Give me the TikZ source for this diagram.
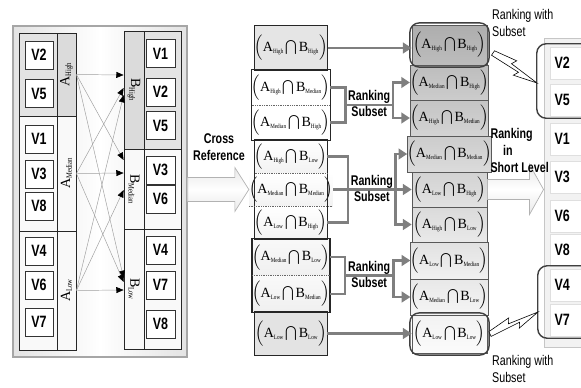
\documentclass[tikz,border=0pt]{standalone}
\usepackage{fontspec}
\usepackage{amsmath}
\usetikzlibrary{arrows.meta, positioning, fit, calc}
\newfontfamily\narrowsans[FakeStretch=0.76]{Liberation Sans}
\newfontfamily\serifrm{Liberation Serif}
\newfontfamily\subserif[FakeStretch=0.8]{Liberation Serif}
\definecolor{linkgray}{HTML}{7F7F7F}
\definecolor{framegray}{HTML}{A6A6A6}

% intersection term, e.g. (A_High \cap B_Low)
\newcommand{\capterm}[2]{$\Bigl(\hbox{\serifrm A}_{\hbox{\subserif\fontsize{5.5}{5.5}\selectfont #1}}\mkern2mu{\bigcap}\mkern2mu\hbox{\serifrm B}_{\hbox{\subserif\fontsize{5.5}{5.5}\selectfont #2}}\Bigr)$}
% set label of a column, e.g. A_High
\newcommand{\setlab}[2]{$\hbox{\serifrm\fontsize{12}{12}\selectfont #1}_{\hbox{\subserif\fontsize{7}{7}\selectfont #2}}$}

\begin{document}
\begin{tikzpicture}[x=0.03cm, y=-0.03cm,
    panel/.style={draw=framegray, line width=1.2pt, left color=gray!22, right color=gray!22, middle color=white},
    setcell/.style={draw=black!85, line width=0.7pt, inner sep=0pt},
    vbox/.style={draw=black!80, fill=white, minimum width=0.84cm, minimum height=0.84cm, inner sep=0pt,
                 font=\narrowsans\bfseries\fontsize{14}{14}\selectfont},
    rvbox/.style={draw=gray!25, fill=white, minimum width=1.08cm, minimum height=0.96cm, inner sep=0pt,
                  font=\narrowsans\bfseries\fontsize{14}{14}\selectfont, execute at end node={\hspace{0.35cm}}},
    crossarrow/.style={draw=gray!75, line width=0.4pt, -{Triangle[length=2.2mm, width=1.8mm, color=black]}},
    termcell/.style={minimum width=2.16cm, inner sep=0pt, font=\fontsize{12}{14}\selectfont},
    rankcell/.style={draw=black!65, line width=0.6pt, minimum width=2.25cm, inner sep=0pt, font=\fontsize{12}{14}\selectfont},
    grpbox/.style={draw=black!85, line width=1.2pt, inner sep=0pt},
    sepline/.style={densely dotted, black!60, line width=0.5pt},
    link/.style={draw=linkgray, line width=2pt},
    tiplink/.style={link, -{Triangle[length=2.6mm, width=3.2mm]}},
    ranktext/.style={font=\narrowsans\bfseries\fontsize{12}{14.5}\selectfont, inner sep=1pt},
    notetext/.style={font=\narrowsans\fontsize{12}{15}\selectfont, align=left, inner sep=0pt},
    hilite/.style={draw=gray!50!black, line width=1.2pt, rounded corners=8pt},
    bigarrow/.style={draw=gray!60, line width=0.6pt, top color=gray!18, bottom color=gray!18, middle color=white},
    bolt/.style={draw=black, line width=0.5pt, fill=white},
]
\useasboundingbox (0,0) rectangle (581,388);

% Left panel: the two sets A and B
\node[panel, minimum width=5.22cm, minimum height=9.93cm] (leftpanel) at (100,191.5) {};

% A column: value area + rotated label for each level
\node[setcell, fill=gray!22, minimum width=1.14cm, minimum height=2.49cm] (ahighv) at (38,74.5) {};
\node[setcell, fill=gray!28, minimum width=0.57cm, minimum height=2.49cm] (ahigh) at (66.5,74.5) {\rotatebox{90}{\setlab{A}{High}}};
\node[setcell, fill=gray!5, minimum width=1.14cm, minimum height=3.45cm] (amedv) at (38,173.5) {};
\node[setcell, fill=gray!5, minimum width=0.57cm, minimum height=3.45cm] (amed) at (66.5,173.5) {\rotatebox{90}{\setlab{A}{Median}}};
\node[setcell, fill=gray!5, minimum width=1.14cm, minimum height=3.57cm] (alowv) at (38,290.5) {};
\node[setcell, fill=gray!5, minimum width=0.57cm, minimum height=3.57cm] (alow) at (66.5,290.5) {\rotatebox{90}{\setlab{A}{Low}}};

% B column: rotated label + value area
\node[setcell, fill=gray!28, minimum width=0.6cm, minimum height=3.54cm] (bhigh) at (134,90) {\rotatebox{-90}{\setlab{B}{High}}};
\node[setcell, fill=gray!22, minimum width=1.11cm, minimum height=3.54cm] (bhighv) at (162.5,90) {};
\node[setcell, fill=gray!5, minimum width=0.6cm, minimum height=2.4cm] (bmed) at (134,189) {\rotatebox{-90}{\setlab{B}{Median}}};
\node[setcell, fill=gray!5, minimum width=1.11cm, minimum height=2.4cm] (bmedv) at (162.5,189) {};
\node[setcell, fill=gray!5, minimum width=0.6cm, minimum height=3.6cm] (blow) at (134,289) {\rotatebox{-90}{\setlab{B}{Low}}};
\node[setcell, fill=gray!5, minimum width=1.11cm, minimum height=3.6cm] (blowv) at (162.5,289) {};

% values in A
\node[vbox] (v2a) at (39,55) {V2};
\node[vbox] (v5a) at (39,93.5) {V5};
\node[vbox] (v1a) at (39,139) {V1};
\node[vbox] (v3a) at (39,174) {V3};
\node[vbox] (v8a) at (39,206) {V8};
\node[vbox] (v4a) at (39,251) {V4};
\node[vbox] (v6a) at (39,285) {V6};
\node[vbox] (v7a) at (39,322) {V7};

% values in B
\node[vbox, minimum width=0.87cm] (v1b) at (160.5,53.5) {V1};
\node[vbox, minimum width=0.87cm] (v2b) at (160.5,92) {V2};
\node[vbox, minimum width=0.87cm] (v5b) at (160.5,125.5) {V5};
\node[vbox, minimum width=0.87cm] (v3b) at (160.5,170) {V3};
\node[vbox, minimum width=0.87cm] (v6b) at (160.5,199) {V6};
\node[vbox, minimum width=0.87cm] (v4b) at (160.5,250) {V4};
\node[vbox, minimum width=0.87cm] (v7b) at (160.5,285) {V7};
\node[vbox, minimum width=0.87cm] (v8b) at (160.5,324) {V8};

% every A level against every B level
\draw[crossarrow] (ahigh.east) -- ($(bhigh.west)+(0,-15)$);
\draw[crossarrow] (ahigh.east) -- ($(bmed.west)+(0,-29)$);
\draw[crossarrow] (ahigh.east) -- ($(blow.west)+(0,-11)$);
\draw[crossarrow] (amed.east) -- ($(bhigh.west)+(0,-2)$);
\draw[crossarrow] (amed.east) -- ($(bmed.west)+(0,-16)$);
\draw[crossarrow] (amed.east) -- ($(blow.west)+(0,-7)$);
\draw[crossarrow] (alow.east) -- ($(bhigh.west)+(0,5)$);
\draw[crossarrow] (alow.east) -- ($(bmed.west)+(0,1)$);
\draw[crossarrow] (alow.east) -- ($(blow.west)+(0,1)$);

% Middle column: the nine intersections
\node[termcell, fill=gray!20, minimum height=1.32cm] (m1) at (291,48) {\capterm{High}{High}};
\node[termcell, fill=white, minimum height=1.05cm] (m2) at (291,87.5) {\capterm{High}{Median}};
\node[termcell, fill=white, minimum height=1.05cm] (m3) at (291,122.5) {\capterm{Median}{High}};
\node[termcell, top color=white, bottom color=gray!10, minimum height=0.99cm] (m4) at (291,156.5) {\capterm{High}{Low}};
\node[termcell, top color=white, bottom color=gray!10, minimum height=0.99cm] (m5) at (291,189.5) {\capterm{Median}{Median}};
\node[termcell, top color=white, bottom color=gray!10, minimum height=0.99cm] (m6) at (291,222.5) {\capterm{Low}{High}};
\node[termcell, top color=gray!5, bottom color=gray!12, minimum height=1.095cm] (m7) at (291,257.25) {\capterm{Median}{Low}};
\node[termcell, top color=gray!5, bottom color=gray!12, minimum height=1.095cm] (m8) at (291,293.75) {\capterm{Low}{Median}};
\node[termcell, fill=gray!22, minimum height=1.29cm] (m9) at (291,333.5) {\capterm{Low}{Low}};

\node[grpbox, fit=(m1)] (grp1) {};
\node[grpbox, fit=(m2)(m3)] (grp2) {};
\node[grpbox, fit=(m4)(m6)] (grp3) {};
\node[grpbox, fit=(m7)(m8)] (grp4) {};
\node[grpbox, fit=(m9)] (grp5) {};
\draw[sepline] (m2.south west) -- (m2.south east);
\draw[sepline] (m4.south west) -- (m4.south east);
\draw[sepline] (m5.south west) -- (m5.south east);
\draw[sepline] (m7.south west) -- (m7.south east);

% Cross reference arrow
\coordinate (crosstip) at (m5.west);
\coordinate (crossbase) at (leftpanel.east |- crosstip);
\path[bigarrow] ($(crossbase)+(0,-12)$) -- ($(crosstip)+(-14,-12)$) -- ($(crosstip)+(-14,-22)$) -- (crosstip)
    -- ($(crosstip)+(-14,22)$) -- ($(crosstip)+(-14,12)$) -- ($(crossbase)+(0,12)$) -- cycle;
\node[ranktext, align=center] (crossref) at (219,147) {Cross\\Reference};

% Right column: ranked intersections
\node[rankcell, top color=gray!64, bottom color=gray!52, minimum height=1.2cm] (r1) at (449.5,45) {\capterm{High}{High}};
\node[rankcell, top color=gray!52, bottom color=gray!40, minimum height=1.05cm] (r2) at (449.5,82.5) {\capterm{Median}{High}};
\node[rankcell, top color=gray!46, bottom color=gray!34, minimum height=1.08cm] (r3) at (449.5,118) {\capterm{High}{Median}};
\node[rankcell, top color=gray!40, bottom color=gray!28, minimum height=1.08cm] (r4) at (449.5,154) {\capterm{Median}{Median}};
\node[rankcell, top color=gray!35, bottom color=gray!23, minimum height=1.05cm] (r5) at (449.5,189.5) {\capterm{Low}{High}};
\node[rankcell, top color=gray!29, bottom color=gray!17, minimum height=1.05cm] (r6) at (449.5,224.5) {\capterm{High}{Low}};
\node[rankcell, top color=gray!23, bottom color=gray!11, minimum height=1.11cm] (r7) at (449.5,260.5) {\capterm{Low}{Median}};
\node[rankcell, top color=gray!18, bottom color=gray!8, minimum height=1.08cm] (r8) at (449.5,297) {\capterm{Median}{Low}};
\node[rankcell, top color=gray!10, bottom color=gray!3, minimum height=1.14cm] (r9) at (449.5,334) {\capterm{Low}{Low}};
\node[hilite, fit=(r1), inner sep=1.5pt] (r1ring) {};
\node[hilite, fit=(r9), inner sep=1.5pt] (r9ring) {};

% single terms go straight across
\draw[tiplink] (m1.east) -- (m1.east -| r1.west);
\draw[tiplink] (m9.east) -- (m9.east -| r9.west);

% group 2: ranking subset
\coordinate (g2l) at ($(m2.east)!0.5!(m3.east)+(15,0)$);
\coordinate (g2r) at ($(r2.west)+(-17,0)$);
\coordinate (g2m) at (g2l -| g2r);
\draw[link] (m2.east) -| (g2l) |- (m3.east);
\draw[link] (g2l) -- (g2m);
\draw[tiplink] (g2m) |- (r2.west);
\draw[tiplink] (g2m) |- (r3.west);
\node[ranktext, above=0pt] (rank2) at ($(g2l)!0.5!(g2m)$) {Ranking};
\node[ranktext, below=0pt] (subset2) at ($(g2l)!0.5!(g2m)$) {Subset};

% group 3: ranking subset
\coordinate (g3l) at ($(m5.east)+(15,0)$);
\coordinate (g3m) at ($(r5.west)+(-16,0)$);
\draw[link] (m4.east) -| (g3l) |- (m6.east);
\draw[tiplink] (m5.east) -- (r5.west);
\draw[tiplink] (g3m) |- (r4.west);
\draw[tiplink] (g3m) |- (r6.west);
\node[ranktext, above=0pt] (rank3) at ($(g3l)!0.5!(g3m)$) {Ranking};
\node[ranktext, below=0pt] (subset3) at ($(g3l)!0.5!(g3m)$) {Subset};

% group 4: ranking subset
\coordinate (g4l) at ($(m7.east)!0.5!(m8.east)+(15,0)$);
\coordinate (g4r) at ($(r7.west)+(-17,0)$);
\coordinate (g4m) at (g4l -| g4r);
\draw[link] (m7.east) -| (g4l) |- (m8.east);
\draw[link] (g4l) -- (g4m);
\draw[tiplink] (g4m) |- (r7.west);
\draw[tiplink] (g4m) |- (r8.west);
\node[ranktext, above=0pt] (rank4) at ($(g4l)!0.5!(g4m)$) {Ranking};
\node[ranktext, below=0pt] (subset4) at ($(g4l)!0.5!(g4m)$) {Subset};

% Right panel: final order of values (cut by the page edge)
\begin{scope}
\clip (0,0) rectangle (581,388);
\node[draw=gray!45, line width=0.8pt, fill=gray!10, minimum width=1.26cm, minimum height=9.27cm, inner sep=0pt] (vpanel) at (565,192.5) {};
\node[rvbox] (v2r) at (568,63) {V2};
\node[rvbox] (v5r) at (568,100) {V5};
\node[rvbox] (v1r) at (568,139) {V1};
\node[rvbox] (v3r) at (568,177) {V3};
\node[rvbox] (v6r) at (568,216) {V6};
\node[rvbox] (v8r) at (568,250) {V8};
\node[rvbox] (v4r) at (568,285) {V4};
\node[rvbox] (v7r) at (568,320) {V7};
\draw[hilite] ($(v2r.north west)+(-13,-3)$) rectangle ($(v5r.south east)+(10,2)$);
\draw[hilite] ($(v4r.north west)+(-12,-3)$) rectangle ($(v7r.south east)+(10,2)$);
\end{scope}

% Ranking in short level arrow
\coordinate (lvltip) at (vpanel.west |- r5.east);
\path[bigarrow] ($(r5.east)+(0,-10)$) -- ($(lvltip)+(-14,-10)$) -- ($(lvltip)+(-14,-25)$) -- (lvltip)
    -- ($(lvltip)+(-14,25)$) -- ($(lvltip)+(-14,10)$) -- ($(r5.east)+(0,10)$) -- cycle;
\node[ranktext, align=left, anchor=south west, inner sep=0pt] (shortlvl) at ($(r5.east)+(3,-17)$) {Ranking\\\hspace*{0.9em}in\\Short Level};

% lightning marks for the subsets
\path[bolt] (494.5,50.8) -- (516.7,60.8) -- (511.5,63.7) -- (537,83) -- (513.3,75.2) -- (518.5,72.3) -- (491.5,55.2) -- cycle;
\path[bolt] (488.9,331.6) -- (508.7,317.9) -- (508.5,323.8) -- (538,312) -- (519.3,328.1) -- (519.5,322.2) -- (491.1,336.4) -- cycle;
\node[notetext, anchor=north west] (topnote) at (492,9) {Ranking with\\Subset};
\node[notetext, anchor=north west] (botnote) at (492,355) {Ranking with\\Subset};

\end{tikzpicture}
\end{document}
